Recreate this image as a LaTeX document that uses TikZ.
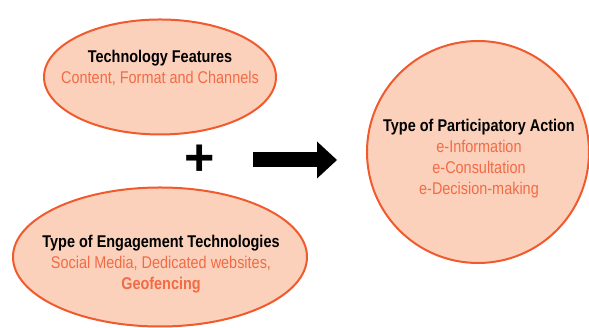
\documentclass[tikz,border=0pt]{standalone}
\usepackage{fontspec}
\setmainfont{Liberation Sans}[FakeStretch=0.85]
\newfontfamily\plusfont{Liberation Sans}
\usetikzlibrary{shapes.geometric,arrows.meta}
\definecolor{peach}{HTML}{FBD1BC}
\definecolor{rim}{HTML}{F05A2D}
\definecolor{ink}{HTML}{F26B45}

\begin{document}
\begin{tikzpicture}[
x=1pt,
y=1pt,
blob/.style={
draw=rim,
fill=peach,
line width=2pt
},
txt/.style={
align=center,
inner sep=0pt,
font=\fontsize{17}{21}\selectfont
}
]
\useasboundingbox (0,0) rectangle (589,328);

\node[blob, ellipse, minimum width=232pt, minimum height=115pt] (feat) at (160,251)
{};

\node[blob, ellipse, minimum width=294pt, minimum height=139pt] (engage) at (160,71)
{};

\node[blob, circle, minimum size=222pt] (action) at (478,176)
{};

\node[txt] (featText) at (160,260)
{\textbf{Technology Features}\\
\textcolor{ink}{Content, Format and Channels}};

\node[txt] (engageText) at (161,64)
{\textbf{Type of Engagement Technologies}\\
\textcolor{ink}{Social Media, Dedicated websites,}\\
\textcolor{ink}{\textbf{Geofencing}}};

\node[txt] (actionText) at (479,169)
{\textbf{Type of Participatory Action}\\
\textcolor{ink}{e-Information}\\
\textcolor{ink}{e-Consultation}\\
\textcolor{ink}{e-Decision-making}};

\node[inner sep=0pt] (plus) at (199.5,167.5)
{\plusfont\fontsize{52}{52}\selectfont\textbf{+}};

\coordinate (from) at (253,168);
\coordinate (to) at (337,168);

\draw[line width=15pt, -{Triangle[length=20pt,width=37pt,line width=0pt]}] (from) -- (to);

\end{tikzpicture}
\end{document}
